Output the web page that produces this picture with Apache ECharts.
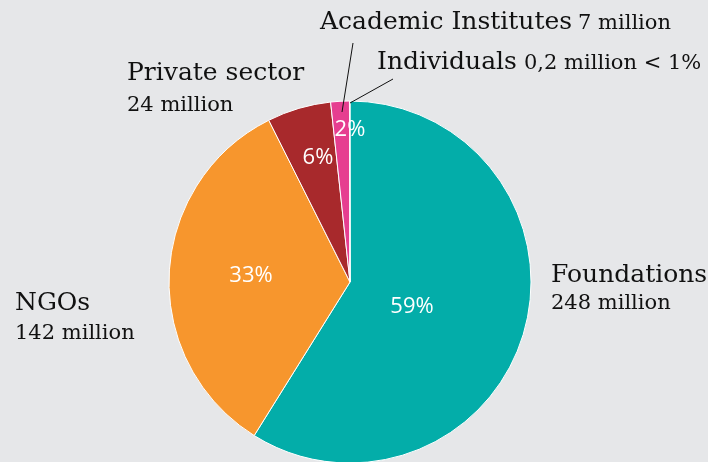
<!DOCTYPE html>
<html>
<head>
<meta charset="utf-8">
<script src="https://cdn.jsdelivr.net/npm/echarts@6/dist/echarts.min.js"></script>
<style>
html, body { margin: 0; padding: 0; background: #e6e7e9; }
#chart { width: 708px; height: 462px; }
</style>
</head>
<body>
<div id="chart"></div>
<script>
// funding sources, in million
var sources = ['Foundations', 'NGOs', 'Private sector', 'Academic Institutes', 'Individuals'];
var amounts = [248, 142, 24, 7, 0.2];
var amountLabels = ['248 million', '142 million', '24 million', '7 million', '0,2 million < 1%'];
var pctLabels = ['59%', '33%', '6%', '2%', ''];
var colors = ['#03ada9', '#f7962d', '#a8292c', '#e63e90', '#e63e90'];

var serif = '"DejaVu Serif", serif';
var sans = '"Open Sans", sans-serif';

function txt(x, y, s, size, opts) {
  opts = opts || {};
  return {
    type: 'text', x: x, y: y, z: 10,
    style: {
      text: s,
      font: (opts.font ? opts.font : size + 'px ' + serif),
      fill: opts.fill || '#111',
      align: opts.align || 'left',
      verticalAlign: 'middle'
    }
  };
}

var myChart = echarts.init(document.getElementById('chart'));
myChart.setOption({
  backgroundColor: '#e6e7e9',
  animation: false,
  series: [{
    type: 'pie',
    center: [350, 282],
    radius: 181,
    startAngle: 90,
    clockwise: true,
    label: { show: false },
    labelLine: { show: false },
    itemStyle: { borderColor: '#fff', borderWidth: 1 },
    data: sources.map(function (n, i) {
      return { name: n, value: amounts[i], itemStyle: { color: colors[i] } };
    })
  }],
  graphic: [
    // outside labels
    txt(320, 22, sources[3], 25),
    txt(578, 24, amountLabels[3], 21),
    txt(377, 62, sources[4], 25),
    txt(524, 64, amountLabels[4], 21),
    txt(127, 73, sources[2], 25),
    txt(127, 106, amountLabels[2], 21),
    txt(15, 303, sources[1], 25),
    txt(15, 334, amountLabels[1], 21),
    txt(551, 275, sources[0], 25),
    txt(551, 304, amountLabels[0], 21),
    // percentages inside slices
    txt(412, 307, pctLabels[0], 0, { font: '22px ' + sans, fill: '#fff', align: 'center' }),
    txt(251, 276, pctLabels[1], 0, { font: '22px ' + sans, fill: '#fff', align: 'center' }),
    txt(318, 158, pctLabels[2], 0, { font: '22px ' + sans, fill: '#fff', align: 'center' }),
    txt(350, 130, pctLabels[3], 0, { font: '22px ' + sans, fill: '#fff', align: 'center' }),
    // leader lines
    { type: 'line', z: 10, shape: { x1: 353, y1: 43, x2: 342, y2: 112 }, style: { stroke: '#111', lineWidth: 1 } },
    { type: 'line', z: 10, shape: { x1: 393, y1: 79, x2: 350, y2: 103 }, style: { stroke: '#111', lineWidth: 1 } }
  ]
});
</script>
</body>
</html>
